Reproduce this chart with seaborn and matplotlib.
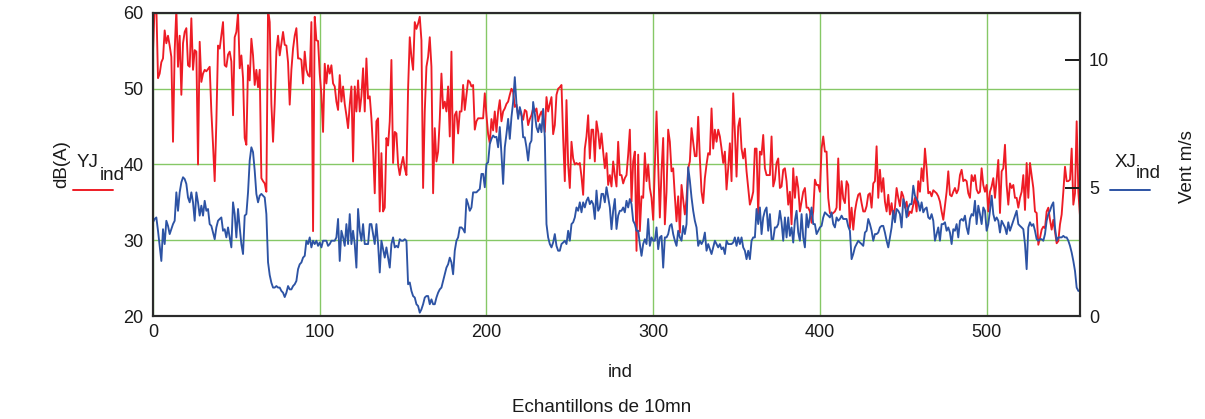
import numpy as np
import pandas as pd
import matplotlib
matplotlib.use("Agg")
import matplotlib.pyplot as plt
import seaborn as sns
from matplotlib.lines import Line2D

# dB(A) per 10-minute sample (left axis)
YJ_ind = [
    55.0, 61, 61, 51.4, 52.0, 53.5, 54.0, 57.7, 56.0, 57.0,
    55.7, 54.2, 43.0, 55.0, 60.5, 52.9, 57.0, 49.2, 56.0, 57.5,
    58.0, 53.1, 52.9, 59.3, 52.5, 55.1, 54.9, 40.0, 56.2, 50.9,
    52.0, 52.5, 52.3, 52.6, 52.9, 47.0, 42.6, 37.8, 45.6, 55.7,
    55.3, 57.1, 58.8, 53.1, 52.9, 54.5, 54.9, 53.6, 46.5, 56.8,
    57.5, 60.0, 52.7, 54.4, 51.4, 43.5, 42.6, 53.1, 51.1, 56.6,
    54.4, 50.5, 52.5, 50.2, 52.5, 38.2, 37.8, 37.5, 36.4, 60.5,
    58.8, 48.0, 43.0, 48.0, 54.9, 57.0, 54.4, 56.0, 57.5, 55.8,
    55.7, 53.5, 47.9, 52.5, 55.3, 57.0, 58.0, 54.0, 54.0, 53.8,
    50.7, 54.9, 52.5, 51.8, 51.6, 58.8, 31.2, 59.5, 56.4, 56.3,
    52.0, 49.2, 44.3, 53.3, 50.7, 53.1, 52.0, 53.1, 50.7, 50.3,
    48.3, 47.2, 51.8, 48.3, 50.3, 48.0, 46.5, 44.8, 47.9, 50.3,
    40.4, 50.3, 47.0, 51.1, 47.0, 49.0, 52.7, 47.0, 54.0, 48.7,
    49.0, 46.1, 42.0, 36.2, 45.7, 46.1, 33.8, 41.5, 33.8, 34.3,
    43.5, 42.5, 45.7, 53.8, 40.2, 44.3, 44.1, 40.0, 38.6, 40.0,
    41.0, 39.5, 38.6, 50.0, 56.8, 54.2, 52.5, 58.8, 57.9, 58.6,
    59.5, 56.4, 36.9, 47.0, 52.9, 54.2, 56.8, 52.9, 36.2, 44.8,
    40.4, 41.7, 46.0, 52.0, 47.4, 48.3, 47.0, 50.3, 43.7, 54.9,
    40.2, 46.5, 47.0, 44.1, 47.0, 47.0, 50.5, 47.2, 49.2, 51.1,
    50.9, 50.3, 50.5, 44.6, 45.7, 46.1, 46.1, 46.1, 46.1, 49.4,
    46.5, 44.0, 42.8, 46.0, 44.5, 47.0, 44.3, 47.0, 48.5, 45.7,
    47.0, 47.4, 48.0, 48.3, 49.2, 50.0, 49.6, 47.6, 47.9, 46.5,
    47.2, 46.5, 45.9, 47.2, 47.0, 45.2, 46.0, 46.5, 47.4, 47.0,
    47.4, 45.7, 46.5, 47.0, 46.1, 44.3, 48.9, 47.0, 48.0, 48.9,
    44.0, 45.2, 49.2, 50.0, 50.2, 50.5, 43.5, 37.8, 48.5, 40.0,
    36.9, 43.0, 40.8, 40.0, 40.2, 40.0, 40.2, 38.4, 36.0, 42.1,
    43.7, 46.5, 40.8, 44.6, 44.6, 40.4, 45.7, 44.3, 42.1, 44.1,
    41.7, 39.5, 41.5, 37.3, 38.6, 37.1, 40.4, 38.6, 37.1, 43.0,
    38.6, 38.6, 37.5, 38.2, 38.6, 41.3, 44.6, 35.1, 40.4, 41.7,
    28.6, 41.3, 31.2, 35.8, 35.6, 41.5, 37.8, 40.0, 36.9, 35.6,
    32.7, 40.0, 47.0, 40.0, 33.0, 39.1, 43.5, 32.1, 36.4, 44.6,
    43.0, 39.1, 39.5, 35.8, 32.5, 35.8, 31.0, 37.3, 35.4, 33.4,
    35.4, 39.5, 40.4, 44.8, 43.0, 41.1, 41.1, 46.3, 40.8, 36.4,
    34.9, 38.2, 40.0, 41.5, 41.3, 47.4, 42.1, 44.6, 43.0, 44.6,
    43.7, 42.1, 40.2, 41.7, 36.7, 39.5, 42.8, 37.8, 49.4, 44.3,
    38.4, 45.0, 46.1, 42.1, 40.8, 42.1, 39.1, 36.9, 34.7, 35.4,
    36.4, 42.1, 42.1, 33.2, 41.7, 41.3, 43.9, 39.5, 38.6, 38.6,
    38.6, 43.7, 37.1, 38.0, 40.2, 40.8, 36.9, 37.1, 39.3, 39.5,
    37.8, 34.7, 36.4, 32.1, 39.5, 35.6, 38.4, 36.9, 33.8, 35.1,
    36.4, 36.9, 34.3, 34.3, 33.8, 32.3, 33.8, 38.0, 37.3, 37.3,
    36.4, 42.1, 43.7, 41.7, 41.7, 35.6, 33.6, 33.4, 33.6, 33.8,
    34.3, 40.8, 34.0, 37.8, 35.5, 34.9, 37.8, 37.3, 31.6, 34.3,
    31.4, 33.8, 35.1, 36.0, 36.2, 34.9, 33.8, 33.8, 34.5, 36.0,
    36.2, 34.3, 37.5, 37.8, 42.4, 35.6, 39.3, 36.4, 38.2, 35.1,
    33.8, 36.0, 33.4, 34.9, 32.9, 34.3, 36.9, 35.6, 34.5, 36.4,
    35.8, 34.3, 35.1, 33.2, 33.8, 33.6, 34.7, 35.6, 33.8, 37.8,
    36.4, 39.5, 37.8, 42.1, 39.5, 36.2, 36.4, 35.8, 36.6, 36.4,
    36.2, 35.8, 35.1, 33.8, 32.7, 34.5, 36.4, 39.1, 36.0, 35.8,
    36.4, 36.9, 36.2, 36.7, 38.6, 39.3, 37.8, 38.0, 37.8, 36.2,
    35.6, 38.6, 37.8, 38.6, 36.7, 36.2, 36.4, 39.5, 37.3, 36.4,
    37.3, 33.8, 36.4, 37.1, 38.2, 35.6, 38.0, 40.6, 33.6, 39.1,
    39.5, 42.6, 37.3, 34.7, 37.5, 36.9, 37.3, 35.6, 35.6, 34.3,
    35.6, 36.4, 38.6, 34.0, 40.2, 35.6, 40.2, 38.6, 36.9, 33.8,
    33.6, 29.4, 30.3, 31.4, 31.8, 31.6, 33.8, 34.3, 32.7, 31.4,
    32.7, 31.2, 29.6, 29.9, 32.1, 33.4, 36.4, 39.7, 37.8, 37.8,
    38.0, 42.1, 34.7, 36.2, 45.7, 36.4, 33.2,
]

# wind speed m/s per 10-minute sample (right axis)
XJ_ind = [
    3.66, 3.79, 3.85, 3.33, 2.74, 2.15, 3.39, 2.81, 3.72, 3.52,
    3.2, 3.39, 3.59, 3.72, 4.83, 4.11, 4.83, 5.22, 5.42, 5.35,
    5.16, 4.63, 4.44, 4.83, 4.44, 3.72, 4.83, 4.44, 3.92, 4.31,
    3.92, 4.5, 4.11, 4.18, 3.59, 3.52, 3.26, 3.0, 3.46, 3.72,
    3.79, 3.85, 3.33, 3.39, 3.07, 3.46, 3.07, 2.68, 4.44, 3.98,
    3.07, 4.18, 3.46, 2.81, 2.42, 3.92, 3.98, 4.83, 6.07, 6.59,
    6.4, 5.68, 4.77, 4.44, 4.7, 4.77, 4.7, 4.63, 3.98, 2.1,
    1.6, 1.3, 1.11, 1.11, 1.17, 1.11, 1.11, 0.98, 0.91, 0.74,
    0.91, 1.17, 1.04, 1.04, 1.17, 1.24, 1.37, 1.83, 2.02, 2.09,
    2.28, 2.35, 2.94, 2.81, 3.07, 2.68, 2.94, 2.81, 2.94, 2.74,
    2.87, 2.68, 2.94, 2.94, 2.94, 2.74, 2.81, 2.94, 2.94, 2.94,
    3.07, 3.79, 2.15, 3.33, 3.07, 2.74, 3.59, 2.81, 3.98, 2.81,
    3.33, 2.81, 1.89, 4.18, 3.33, 2.94, 3.59, 2.81, 2.81, 2.81,
    3.59, 3.59, 3.2, 2.81, 3.59, 2.81, 1.7, 2.94, 2.61, 2.28,
    2.68, 2.28, 1.89, 2.81, 3.07, 2.68, 2.74, 2.68, 3.0, 2.94,
    2.94, 3.0, 2.94, 1.24, 1.31, 0.98, 0.78, 0.72, 0.46, 0.39,
    0.13, 0.26, 0.46, 0.72, 0.78, 0.78, 0.46, 0.65, 0.46, 0.46,
    0.72, 0.91, 1.04, 1.11, 1.37, 1.63, 1.89, 2.02, 2.28, 2.09,
    1.63, 2.55, 2.94, 3.07, 3.46, 3.46, 3.39, 3.26, 4.57, 4.37,
    4.11, 4.24, 4.83, 4.83, 4.83, 4.9, 4.96, 5.55, 5.55, 5.03,
    5.94, 6.0, 6.72, 6.92, 7.05, 6.98, 7.0, 6.59, 7.38, 6.33,
    5.16, 6.59, 7.11, 7.7, 6.92, 7.77, 8.36, 9.33, 8.29, 7.7,
    8.16, 7.9, 6.98, 6.98, 6.59, 6.07, 6.72, 6.85, 8.36, 7.9,
    7.38, 7.18, 7.5, 7.18, 8.09, 6.98, 3.59, 3.07, 2.81, 2.68,
    2.87, 3.2, 2.74, 2.55, 2.55, 2.81, 2.87, 2.94, 2.81, 3.33,
    2.94, 3.59, 3.66, 3.85, 4.24, 4.11, 4.44, 4.05, 4.44, 4.24,
    4.5, 4.63, 4.37, 4.5, 4.37, 3.79, 4.9, 4.11, 4.24, 4.77,
    4.77, 4.44, 5.03, 4.63, 4.24, 3.39, 4.11, 4.57, 3.4, 3.92,
    4.11, 4.11, 4.24, 4.05, 4.5, 4.24, 4.57, 4.37, 3.72, 3.59,
    3.33, 3.33, 2.81, 2.35, 2.81, 3.0, 2.81, 3.79, 2.74, 3.07,
    2.94, 2.94, 3.46, 2.61, 3.07, 3.13, 1.89, 3.07, 3.07, 3.2,
    3.52, 3.59, 3.2, 2.94, 2.74, 3.33, 3.07, 2.94, 3.52, 3.2,
    3.59, 5.81, 5.29, 4.63, 4.11, 3.72, 3.46, 2.74, 2.94, 2.81,
    2.94, 3.26, 2.55, 2.81, 2.61, 2.42, 2.68, 2.94, 2.81, 2.68,
    2.81, 2.61, 2.68, 2.42, 2.94, 2.81, 2.81, 2.81, 2.87, 3.07,
    2.74, 3.07, 2.81, 3.07, 2.68, 2.55, 2.22, 2.55, 2.22, 2.94,
    3.07, 3.07, 4.18, 3.59, 4.24, 3.2, 3.85, 4.11, 4.24, 3.33,
    3.98, 3.0, 3.0, 3.46, 3.46, 3.59, 4.11, 3.66, 2.94, 3.85,
    3.07, 3.85, 3.13, 3.46, 2.87, 3.72, 4.11, 3.26, 2.94, 3.98,
    3.07, 2.68, 3.98, 3.46, 3.85, 4.24, 3.59, 3.59, 3.2, 3.33,
    3.46, 3.52, 3.85, 4.05, 3.98, 3.92, 3.85, 4.05, 3.59, 3.46,
    3.85, 3.72, 3.79, 3.92, 3.79, 3.79, 3.79, 3.5, 3.33, 2.22,
    2.42, 2.68, 2.81, 2.94, 2.87, 2.81, 2.74, 3.26, 3.33, 3.79,
    3.59, 3.33, 2.94, 3.2, 3.2, 3.26, 3.46, 3.52, 3.52, 3.26,
    2.94, 2.68, 3.07, 3.46, 4.11, 3.66, 4.18, 4.11, 3.98, 3.46,
    4.57, 4.37, 3.85, 4.24, 4.37, 4.37, 5.09, 4.7, 4.57, 4.44,
    4.11, 4.44, 4.05, 4.18, 4.24, 3.85, 3.79, 3.98, 3.72, 2.94,
    3.2, 3.46, 2.94, 3.59, 3.59, 3.66, 3.33, 3.46, 3.26, 2.81,
    3.39, 3.33, 3.59, 3.07, 3.72, 3.79, 3.72, 3.92, 3.46, 3.2,
    3.79, 3.98, 3.92, 4.5, 3.59, 4.31, 3.98, 3.59, 4.24, 4.11,
    3.33, 3.59, 4.11, 4.7, 3.98, 3.72, 3.85, 3.72, 3.26, 3.72,
    3.59, 3.46, 3.2, 3.66, 3.33, 3.52, 3.72, 3.92, 4.11, 3.59,
    3.52, 3.46, 3.39, 2.81, 1.83, 3.46, 3.66, 3.52, 3.59, 3.33,
    3.0, 2.94, 3.0, 3.0, 2.94, 3.2, 3.72, 3.98, 4.11, 4.31,
    4.44, 3.46, 2.94, 3.07, 3.07, 3.07, 3.13, 3.07, 3.07, 2.94,
    2.74, 2.48, 2.15, 1.76, 1.11, 0.98, 0.98,
]

ind = np.arange(len(YJ_ind))

x_ticks = [0, 100, 200, 300, 400, 500]
left_ticks = [20, 30, 40, 50, 60]
right_ticks = [0, 5, 10]

RED = "#ee1c25"
BLUE = "#2d53a4"
GREEN = "#86c866"
FRAME = "#2b2b2b"
TXT = "#1a1a1a"

sns.set_theme(style="white")
plt.rcParams["font.family"] = ["Liberation Sans", "DejaVu Sans"]

W, H = 1205, 419
fig = plt.figure(figsize=(W / 100, H / 100), dpi=100)
fig.patch.set_facecolor("white")

L, R, T, B = 153, 1080, 13, 316
ax = fig.add_axes([L / W, 1 - B / H, (R - L) / W, (B - T) / H])
ax.set_facecolor("white")

df = pd.DataFrame({"ind": ind, "YJ": YJ_ind, "XJ": XJ_ind})

sns.lineplot(data=df, x="ind", y="YJ", ax=ax, color=RED, lw=1.35,
             estimator=None, legend=False)
ax.set_xlim(0, len(YJ_ind) - 1)
ax.set_ylim(20, 60)
ax.set_xticks(x_ticks)
ax.set_yticks(left_ticks)
ax.grid(True, color=GREEN, lw=1.0)
ax.set_axisbelow(True)
ax.tick_params(axis="both", length=0, labelsize=13, colors=TXT)
ax.tick_params(axis="x", pad=6)
ax.tick_params(axis="y", pad=7)
ax.set_xlabel("")
ax.set_ylabel("")

ax2 = ax.twinx()
sns.lineplot(data=df, x="ind", y="XJ", ax=ax2, color=BLUE, lw=1.35,
             estimator=None, legend=False)
ax2.set_ylim(0, (B - T) / 25.6)
ax2.set_yticks(right_ticks)
ax2.tick_params(axis="y", direction="in", length=10.5, width=1.4,
                color=TXT, labelsize=13, pad=6.5, colors=TXT)
ax2.set_xlabel("")
ax2.set_ylabel("")
ax2.grid(False)

for a in (ax, ax2):
    for s in a.spines.values():
        s.set_color(FRAME)
        s.set_linewidth(1.5)
        s.set_visible(True)

def fx(x):
    return x / W

def fy(y):
    return 1 - y / H

fs = 13.5
fig.text(fx(620), fy(377), "ind", ha="center", va="baseline", fontsize=fs, color=TXT)
fig.text(fx(602), fy(412), "Echantillons de 10mn", ha="center", va="baseline", fontsize=fs, color=TXT)
fig.text(fx(62), fy(164), "dB(A)", rotation=90, ha="center", va="center", fontsize=fs, color=TXT)
fig.text(fx(1188), fy(167), "Vent m/s", rotation=90, ha="center", va="center", fontsize=fs, color=TXT)

# series legends
fig.text(fx(77), fy(167), "YJ", ha="left", va="baseline", fontsize=fs, color=TXT)
fig.text(fx(100), fy(180), "ind", ha="left", va="baseline", fontsize=fs, color=TXT)
fig.add_artist(Line2D([fx(73), fx(113)], [fy(190), fy(190)], color=RED, lw=1.4))
fig.text(fx(1115), fy(167), "XJ", ha="left", va="baseline", fontsize=fs, color=TXT)
fig.text(fx(1136), fy(178), "ind", ha="left", va="baseline", fontsize=fs, color=TXT)
fig.add_artist(Line2D([fx(1110), fx(1150)], [fy(190), fy(190)], color=BLUE, lw=1.4))

fig.savefig("out.png", dpi=100, facecolor="white")
